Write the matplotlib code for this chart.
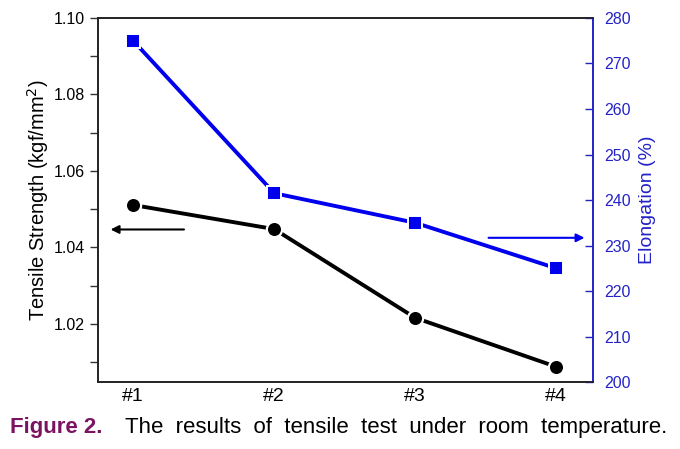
import matplotlib.pyplot as plt
from matplotlib.ticker import MultipleLocator

plt.rcParams['font.family'] = ['Liberation Sans', 'DejaVu Sans']

# sample labels and measured values
samples = ['#1', '#2', '#3', '#4']
tensile_strength = [1.0511, 1.0448, 1.0216, 1.0088]   # kgf/mm2
elongation = [275.0, 241.5, 235.0, 225.0]             # %

blue = '#0000EE'
axis_blue = '#2323C8'

fig = plt.figure(figsize=(6.8, 4.49), dpi=100)
ax = fig.add_axes([0.144, 0.149, 0.728, 0.811])
ax2 = ax.twinx()

x = list(range(1, len(samples) + 1))

# tensile strength (left axis)
ax.plot(x, tensile_strength, color='black', lw=2.8, marker='o', ms=11,
        mfc='black', mec='white', mew=1.6, zorder=3)
ax.set_xlim(0.75, 4.26)
ax.set_ylim(1.0048, 1.10)
ax.yaxis.set_minor_locator(MultipleLocator(0.01))
ax.set_yticks([1.02, 1.04, 1.06, 1.08, 1.10])
ax.set_xticks(x)
ax.set_xticklabels(samples)
ax.tick_params(axis='y', which='both', direction='out', length=6, width=1,
               labelsize=11.5, color='#333333')
ax.tick_params(axis='x', length=0, labelsize=14, pad=4)
ax.set_ylabel('Tensile Strength (kgf/mm$^2$)', fontsize=14.5, labelpad=2)

# elongation (right axis)
ax2.plot(x, elongation, color=blue, lw=2.8, marker='s', ms=10,
         mfc=blue, mec='white', mew=1.4, zorder=3)
ax2.set_ylim(200, 280)
ax2.yaxis.set_major_locator(MultipleLocator(10))
ax2.tick_params(axis='y', direction='in', length=6, width=1, pad=8,
                labelsize=11.5, colors=axis_blue)
ax2.set_ylabel('Elongation (%)', fontsize=14, color=axis_blue, labelpad=6)

for a in (ax, ax2):
    for side in ('top', 'bottom', 'left'):
        a.spines[side].set_color('#222222')
        a.spines[side].set_linewidth(1.2)
    a.spines['right'].set_color(axis_blue)
    a.spines['right'].set_linewidth(1.2)

# axis pointer arrows
ax.annotate('', xy=(0.82, 1.0447), xytext=(1.38, 1.0447),
            arrowprops=dict(arrowstyle='-|>', color='black', lw=1.5,
                            mutation_scale=12))
ax2.annotate('', xy=(4.22, 231.7), xytext=(3.50, 231.7),
             arrowprops=dict(arrowstyle='-|>', color=blue, lw=1.5,
                             mutation_scale=12))

# caption
fig.text(0.015, 0.048, 'Figure 2.', fontsize=16, fontweight='bold',
         color='#7A1461', va='center')
fig.text(0.184, 0.048, 'The  results  of  tensile  test  under  room  temperature.',
         fontsize=16, color='black', va='center')

fig.savefig('out.png', dpi=100)
